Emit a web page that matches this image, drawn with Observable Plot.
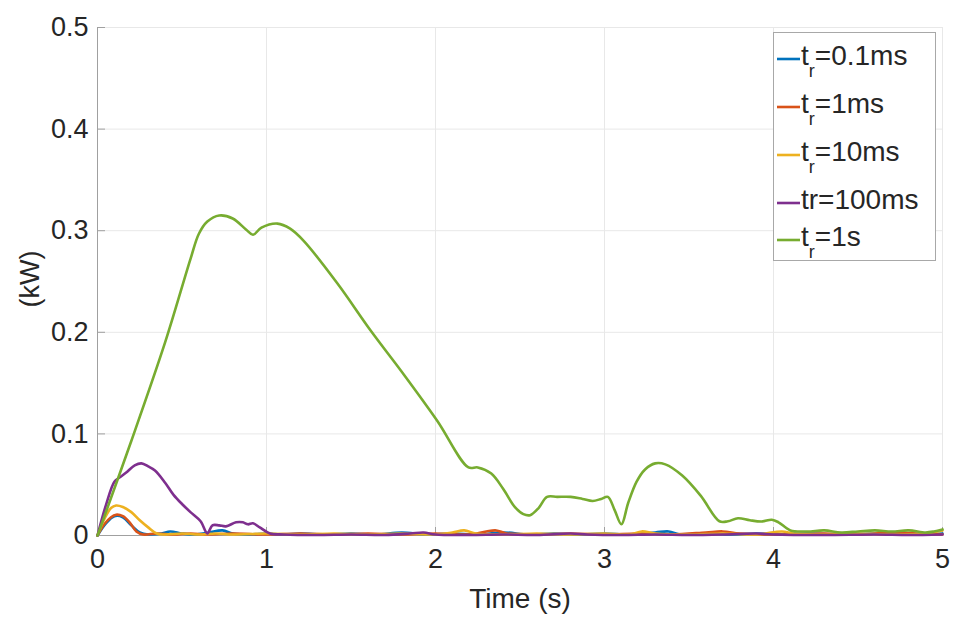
<!DOCTYPE html>
<html>
<head>
<meta charset="utf-8">
<script src="https://cdn.jsdelivr.net/npm/d3@7"></script>
<script src="https://cdn.jsdelivr.net/npm/@observablehq/plot@0.6"></script>
<style>
  html, body { margin: 0; padding: 0; background: #fff; }
  #wrap { position: relative; width: 953px; height: 619px; font-family: "Liberation Sans", Arial, sans-serif; }
  #legend { position: absolute; left: 0; top: 0; }
</style>
</head>
<body>
<div id="wrap"></div>
<script>
// ---- data (time in s, power in kW) ----
const seriesNames = ["tr=0.1ms", "tr=1ms", "tr=10ms", "tr=100ms", "tr=1s"];
const legendHead = ["t", "t", "t", "tr", "t"];
const legendSub = ["r", "r", "r", "", "r"];
const legendTail = ["=0.1ms", "=1ms", "=10ms", "=100ms", "=1s"];
const seriesColors = ["#0072BD", "#D95319", "#EDB120", "#7E2F8E", "#77AC30"];

const s01ms = [[0,0],[0.05,0.012],[0.1,0.019],[0.15,0.018],[0.2,0.01],[0.25,0.003],[0.3,0.001],[0.38,0.002],[0.43,0.004],[0.5,0.002],[0.58,0.001],[0.66,0.003],[0.74,0.005],[0.8,0.002],[0.9,0.001],[1.0,0.002],[1.1,0.001],[1.2,0.002],[1.35,0.001],[1.5,0.002],[1.65,0.001],[1.8,0.003],[1.95,0.001],[2.1,0.002],[2.25,0.001],[2.4,0.003],[2.55,0.001],[2.7,0.002],[2.85,0.001],[3.0,0.002],[3.15,0.001],[3.3,0.003],[3.38,0.004],[3.45,0.001],[3.6,0.002],[3.75,0.001],[3.9,0.002],[4.05,0.001],[4.2,0.002],[4.4,0.001],[4.6,0.002],[4.8,0.001],[5,0.002]];
const s1ms = [[0,0],[0.04,0.011],[0.08,0.018],[0.11,0.0205],[0.15,0.019],[0.19,0.013],[0.23,0.004],[0.27,0.001],[0.35,0.002],[0.45,0.001],[0.55,0.002],[0.65,0.001],[0.8,0.002],[1.0,0.001],[1.2,0.002],[1.4,0.001],[1.6,0.002],[1.8,0.001],[2.0,0.002],[2.2,0.001],[2.3,0.004],[2.36,0.005],[2.42,0.002],[2.6,0.001],[2.8,0.002],[3.0,0.001],[3.2,0.002],[3.4,0.001],[3.6,0.003],[3.7,0.004],[3.8,0.002],[4.0,0.001],[4.3,0.002],[4.5,0.001],[4.7,0.003],[4.85,0.002],[5,0.001]];
const s10ms = [[0,0],[0.04,0.016],[0.08,0.027],[0.11,0.0295],[0.15,0.028],[0.2,0.023],[0.25,0.015],[0.3,0.008],[0.35,0.002],[0.4,0.001],[0.5,0.002],[0.6,0.001],[0.7,0.002],[0.8,0.001],[1.0,0.002],[1.2,0.001],[1.4,0.002],[1.6,0.001],[1.8,0.002],[2.0,0.001],[2.1,0.003],[2.17,0.005],[2.24,0.002],[2.4,0.001],[2.6,0.002],[2.8,0.001],[3.0,0.002],[3.15,0.001],[3.22,0.004],[3.3,0.002],[3.5,0.001],[3.7,0.002],[3.9,0.001],[4.05,0.004],[4.12,0.002],[4.3,0.001],[4.5,0.002],[4.7,0.001],[4.9,0.002],[5,0.005]];
const s100ms = [[0,0],[0.05,0.03],[0.1,0.053],[0.13,0.057],[0.17,0.062],[0.22,0.069],[0.26,0.071],[0.3,0.068],[0.34,0.064],[0.4,0.052],[0.45,0.04],[0.5,0.031],[0.55,0.023],[0.61,0.014],[0.65,0.002],[0.68,0.01],[0.72,0.01],[0.76,0.009],[0.82,0.013],[0.86,0.013],[0.89,0.011],[0.92,0.012],[0.96,0.008],[1.02,0.002],[1.1,0.001],[1.3,0.0005],[1.5,0.001],[1.7,0.0005],[1.85,0.002],[1.93,0.003],[2.0,0.001],[2.2,0.0005],[2.4,0.001],[2.6,0.0005],[2.8,0.002],[2.9,0.001],[3.1,0.0005],[3.3,0.001],[3.5,0.0005],[3.7,0.001],[3.9,0.002],[4.0,0.001],[4.3,0.0005],[4.6,0.001],[4.8,0.0005],[5,0.001]];
const s1s = [[0,0],[0.2,0.093],[0.4,0.19],[0.55,0.272],[0.6,0.297],[0.65,0.309],[0.72,0.315],[0.8,0.312],[0.88,0.301],[0.92,0.296],[0.97,0.303],[1.065,0.307],[1.14,0.302],[1.22,0.29],[1.42,0.248],[1.615,0.202],[1.81,0.159],[2.01,0.113],[2.195,0.067],[2.25,0.067],[2.33,0.061],[2.4,0.046],[2.47,0.028],[2.52,0.021],[2.56,0.02],[2.61,0.027],[2.66,0.038],[2.72,0.038],[2.8,0.038],[2.87,0.036],[2.93,0.034],[2.98,0.036],[3.02,0.038],[3.06,0.025],[3.1,0.011],[3.14,0.032],[3.19,0.053],[3.24,0.065],[3.3,0.071],[3.36,0.07],[3.46,0.059],[3.57,0.039],[3.68,0.014],[3.73,0.014],[3.79,0.017],[3.86,0.015],[3.93,0.0138],[3.99,0.0155],[4.03,0.013],[4.1,0.005],[4.2,0.004],[4.3,0.005],[4.4,0.003],[4.5,0.004],[4.6,0.005],[4.7,0.004],[4.8,0.005],[4.9,0.003],[4.95,0.004],[5,0.006]];

const seriesData = [s01ms, s1ms, s10ms, s100ms, s1s];
const xTicks = [0, 1, 2, 3, 4, 5];
const yTicks = [0, 0.1, 0.2, 0.3, 0.4, 0.5];

const rows = seriesData.flatMap((arr, i) => arr.map(([t, v]) => ({t, v, s: seriesNames[i]})));

const font = '"Liberation Sans", Arial, sans-serif';
const chart = Plot.plot({
  width: 953,
  height: 619,
  marginLeft: 97,
  marginRight: 11,
  marginTop: 27,
  marginBottom: 84,
  style: {fontFamily: font, fontSize: "27px", color: "#262626", background: "#fff"},
  x: {domain: [0, 5], ticks: xTicks, label: null},
  y: {domain: [0, 0.5], ticks: yTicks, label: null},
  color: {domain: seriesNames, range: seriesColors},
  marks: [
    Plot.gridX(xTicks, {stroke: "#e8e8e8", strokeOpacity: 1}),
    Plot.gridY(yTicks, {stroke: "#e8e8e8", strokeOpacity: 1}),
    Plot.ruleX([0], {stroke: "#a0a0a0"}),
    Plot.ruleY([0], {stroke: "#a0a0a0"}),
    Plot.axisX(xTicks, {tickSize: 8, dy: -8, tickFormat: () => "", stroke: "#a0a0a0", label: null}),
    Plot.axisY(yTicks, {tickSize: 8, dx: 8, tickFormat: () => "", stroke: "#a0a0a0", label: null}),
    Plot.axisX(xTicks, {tickSize: 0, tickPadding: 13, fontSize: 27, fill: "#262626", label: null, tickFormat: d => String(d)}),
    Plot.axisY(yTicks, {tickSize: 0, tickPadding: 9, fontSize: 27, fill: "#262626", label: null, tickFormat: d => String(d)}),
    Plot.text(["Time (s)"], {frameAnchor: "bottom", dy: 72, fontSize: 28, fill: "#262626"}),
    Plot.text(["(kW)"], {frameAnchor: "left", dx: -67, dy: 26, rotate: -90, fontSize: 27, fill: "#262626"}),
    Plot.line(rows, {x: "t", y: "v", z: "s", stroke: "s", strokeWidth: 2.6, curve: "catmull-rom"})
  ]
});

const wrap = document.getElementById("wrap");
wrap.appendChild(chart);

// ---- legend overlay ----
const lg = d3.select(wrap).append("svg")
  .attr("id", "legend").attr("width", 953).attr("height", 619)
  .style("pointer-events", "none");
lg.append("rect").attr("x", 773.5).attr("y", 32.5).attr("width", 162).attr("height", 228)
  .attr("fill", "#fff").attr("stroke", "#a8a8a8").attr("stroke-width", 1);
let base = 65;
seriesNames.forEach((name, i) => {
  if (i > 0) base += legendSub[i - 1] ? 48 : 37;
  const g = lg.append("g");
  g.append("line").attr("x1", 777).attr("x2", 800).attr("y1", base - 6).attr("y2", base - 6)
    .attr("stroke", seriesColors[i]).attr("stroke-width", 2.6);
  const t = g.append("text").attr("x", 801).attr("y", base)
    .attr("font-family", font).attr("font-size", 28).attr("fill", "#262626");
  t.append("tspan").text(legendHead[i]);
  if (legendSub[i]) {
    t.append("tspan").attr("font-size", 18).attr("dy", 12).text(legendSub[i]);
    t.append("tspan").attr("dy", -12).text(legendTail[i]);
  } else {
    t.append("tspan").text(legendTail[i]);
  }
});
</script>
</body>
</html>
